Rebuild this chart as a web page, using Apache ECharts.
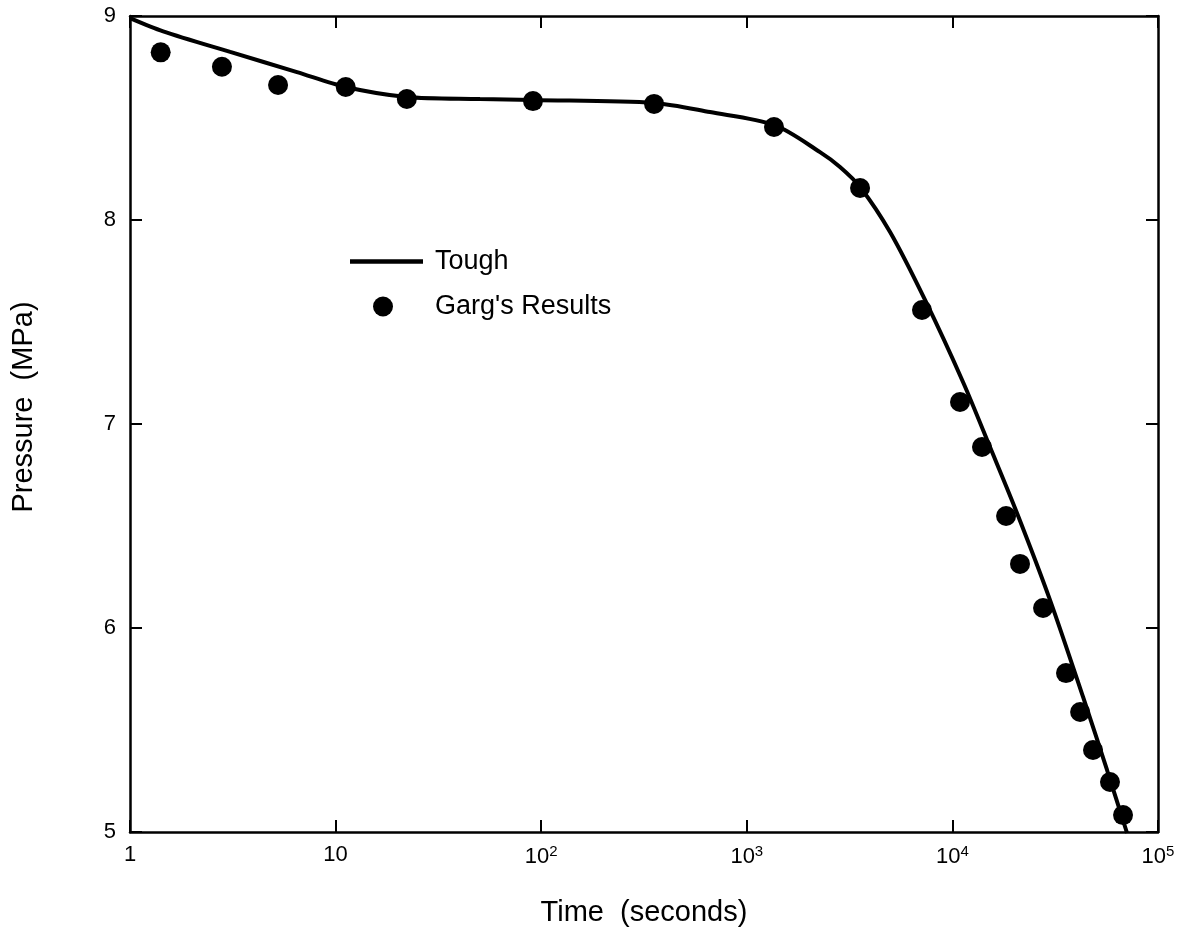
<!DOCTYPE html>
<html>
<head>
<meta charset="utf-8">
<script src="https://cdn.jsdelivr.net/npm/echarts@6/dist/echarts.min.js"></script>
<style>
  html, body { margin: 0; padding: 0; background: #fff; }
  #chart { width: 1188px; height: 938px; }
</style>
</head>
<body>
<div id="chart"></div>
<script>
// Tough 模拟曲线 (时间 s, 压力 MPa)
var toughTime = [1, 1.45, 3.07, 6.49, 11.2, 22.2, 50.4, 91.2, 354, 662, 1356, 2270, 2840, 3555, 4975, 7360, 11260, 15240, 20610, 29850, 43200, 56500, 70700];
var toughPressure = [8.99, 8.925, 8.824, 8.725, 8.652, 8.603, 8.593, 8.588, 8.574, 8.529, 8.466, 8.333, 8.26, 8.162, 7.941, 7.608, 7.206, 6.887, 6.564, 6.137, 5.662, 5.304, 4.995];

// Garg 的结果
var gargTime = [1.41, 2.8, 5.25, 11.2, 22.2, 91.2, 354, 1356, 3555, 7113, 10890, 13930, 18240, 21320, 27600, 35700, 41800, 48300, 58400, 67600];
var gargPressure = [8.822, 8.751, 8.662, 8.652, 8.593, 8.583, 8.569, 8.456, 8.157, 7.559, 7.108, 6.887, 6.549, 6.314, 6.098, 5.779, 5.588, 5.402, 5.245, 5.083];

var seriesNames = ['Tough', "Garg's Results"];

function makeChart(chartid) {
    var container = echarts.init(document.getElementById(chartid));
    var font = '"Liberation Sans", Arial, Helvetica, sans-serif';

    var toughData = [];
    for (var i = 0; i < toughTime.length; i++) {
        toughData.push([toughTime[i], toughPressure[i]]);
    }
    var gargData = [];
    for (var j = 0; j < gargTime.length; j++) {
        gargData.push([gargTime[j], gargPressure[j]]);
    }

    // 对数轴标签: 1, 10, 10^2 ...
    function logLabel(v) {
        var n = Math.round(Math.log(v) / Math.LN10);
        if (n === 0) return '1';
        if (n === 1) return '10';
        return '10{sup|' + n + '}';
    }

    var tickStyle = { show: true, inside: true, length: 12, lineStyle: { color: '#000', width: 2 } };
    var lineStyle = { show: true, lineStyle: { color: '#000', width: 2.5 } };

    var option = {
        animation: false,
        backgroundColor: '#fff',
        textStyle: { fontFamily: font, color: '#000' },
        grid: { left: 130, right: 30, top: 16, bottom: 106 },
        legend: [
            {
                data: [{ name: seriesNames[0], icon: 'path://M0,0 L73,0 L73,4.5 L0,4.5 Z' }],
                left: 350,
                top: 248,
                padding: 0,
                itemWidth: 73,
                itemHeight: 20,
                textStyle: { fontFamily: font, fontSize: 27, color: '#000', padding: [0, 0, 0, 7] }
            },
            {
                data: [seriesNames[1]],
                left: 373,
                top: 293,
                padding: 0,
                itemWidth: 20,
                itemHeight: 20,
                textStyle: { fontFamily: font, fontSize: 27, color: '#000', padding: [0, 0, 0, 37] }
            }
        ],
        xAxis: [
            {
                type: 'log',
                logBase: 10,
                min: 1,
                max: 100000,
                name: 'Time  (seconds)',
                nameLocation: 'middle',
                nameGap: 66,
                nameTextStyle: { fontFamily: font, fontSize: 29, color: '#000' },
                axisLine: lineStyle,
                axisTick: tickStyle,
                minorTick: { show: false },
                splitLine: { show: false },
                axisLabel: {
                    margin: 12,
                    fontSize: 22,
                    color: '#000',
                    fontFamily: font,
                    formatter: logLabel,
                    rich: {
                        sup: { fontSize: 15, verticalAlign: 'top', padding: [0, 0, 10, 0], color: '#000', fontFamily: font }
                    }
                }
            },
            {
                type: 'log',
                logBase: 10,
                min: 1,
                max: 100000,
                position: 'top',
                axisLine: lineStyle,
                axisTick: tickStyle,
                axisLabel: { show: false },
                splitLine: { show: false }
            }
        ],
        yAxis: [
            {
                type: 'value',
                min: 5,
                max: 9,
                interval: 1,
                name: 'Pressure  (MPa)',
                nameLocation: 'middle',
                nameGap: 92,
                nameTextStyle: { fontFamily: font, fontSize: 29, color: '#000', padding: [0, 0, 0, 34] },
                axisLine: lineStyle,
                axisTick: tickStyle,
                splitLine: { show: false },
                axisLabel: { margin: 14, fontSize: 22, color: '#000', fontFamily: font }
            },
            {
                type: 'value',
                min: 5,
                max: 9,
                interval: 1,
                position: 'right',
                axisLine: lineStyle,
                axisTick: tickStyle,
                axisLabel: { show: false },
                splitLine: { show: false }
            }
        ],
        series: [
            {
                name: seriesNames[0],
                type: 'line',
                symbol: 'none',
                smooth: 0.3,
                data: toughData,
                lineStyle: { color: '#000', width: 4 },
                itemStyle: { color: '#000' },
                z: 2
            },
            {
                name: seriesNames[1],
                type: 'scatter',
                symbol: 'circle',
                symbolSize: 20,
                data: gargData,
                itemStyle: { color: '#000', opacity: 1 },
                z: 3
            }
        ]
    };

    container.setOption(option);
}
makeChart('chart');
</script>
</body>
</html>
